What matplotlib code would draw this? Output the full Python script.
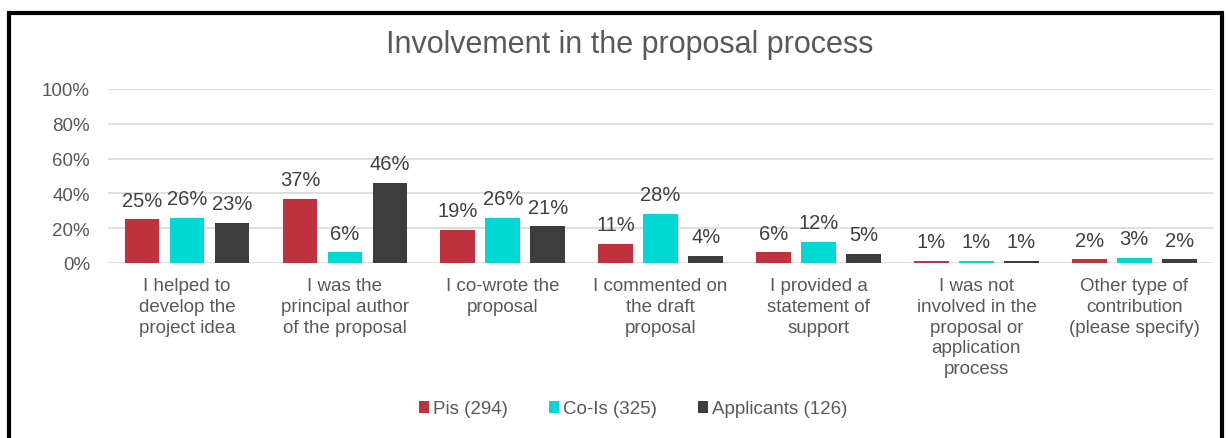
import numpy as np
import matplotlib.pyplot as plt
from matplotlib.patches import Rectangle

plt.rcParams['font.family'] = ['Liberation Sans', 'DejaVu Sans']

categories = [
    "I helped to\ndevelop the\nproject idea",
    "I was the\nprincipal author\nof the proposal",
    "I co-wrote the\nproposal",
    "I commented on\nthe draft\nproposal",
    "I provided a\nstatement of\nsupport",
    "I was not\ninvolved in the\nproposal or\napplication\nprocess",
    "Other type of\ncontribution\n(please specify)",
]
series_names = ["Pis (294)", "Co-Is (325)", "Applicants (126)"]
pis = [25, 37, 19, 11, 6, 1, 2]
cois = [26, 6, 26, 28, 12, 1, 3]
applicants = [23, 46, 21, 4, 5, 1, 2]
colors = ["#c0313e", "#00d9d3", "#3d3d3d"]

text_col = "#595959"

fig = plt.figure(figsize=(12.28, 4.39), dpi=100)
ax = fig.add_axes([0.088, 0.399, 0.900, 0.396])

x = np.arange(len(categories))
width = 0.219
step = 0.285
for i, (vals, name, col) in enumerate(zip([pis, cois, applicants], series_names, colors)):
    pos = x + (i - 1) * step
    bars = ax.bar(pos, vals, width, color=col, label=name, zorder=3)
    for b, v in zip(bars, vals):
        ax.annotate(f"{v}%", (b.get_x() + b.get_width() / 2, v),
                    xytext=(0, 7), textcoords="offset points",
                    ha="center", va="bottom", fontsize=14.5, color="#404040")

ax.set_xlim(-0.5, len(categories) - 0.5)
ax.set_ylim(0, 100)
ax.set_yticks(range(0, 101, 20))
ax.set_yticklabels([f"{t}%" for t in range(0, 101, 20)], fontsize=13.5, color=text_col)
ax.set_xticks(x)
ax.set_xticklabels(categories, fontsize=13.5, color=text_col, linespacing=1.3, va="top")
ax.tick_params(axis="both", length=0)
ax.tick_params(axis="y", pad=13)
ax.tick_params(axis="x", pad=10)
ax.grid(axis="y", color="#d9d9d9", linewidth=1.2, zorder=0)
for s in ax.spines.values():
    s.set_visible(False)

fig.text(630 / 1228, 1 - 45 / 439, "Involvement in the proposal process",
         ha="center", va="center", fontsize=22, color=text_col)

fig.legend(loc="center", bbox_to_anchor=(633 / 1228, 1 - 410 / 439), ncol=3,
           frameon=False, fontsize=13.5, handlelength=0.55, handleheight=0.55,
           handletextpad=0.2, columnspacing=2.2, labelcolor=text_col)

fig.patches.append(Rectangle((9 / 1228, -0.1), 1213 / 1228, 1.1 - 14 / 439,
                             transform=fig.transFigure, fill=False,
                             edgecolor="black", linewidth=3))

fig.savefig("out.png", dpi=100)
